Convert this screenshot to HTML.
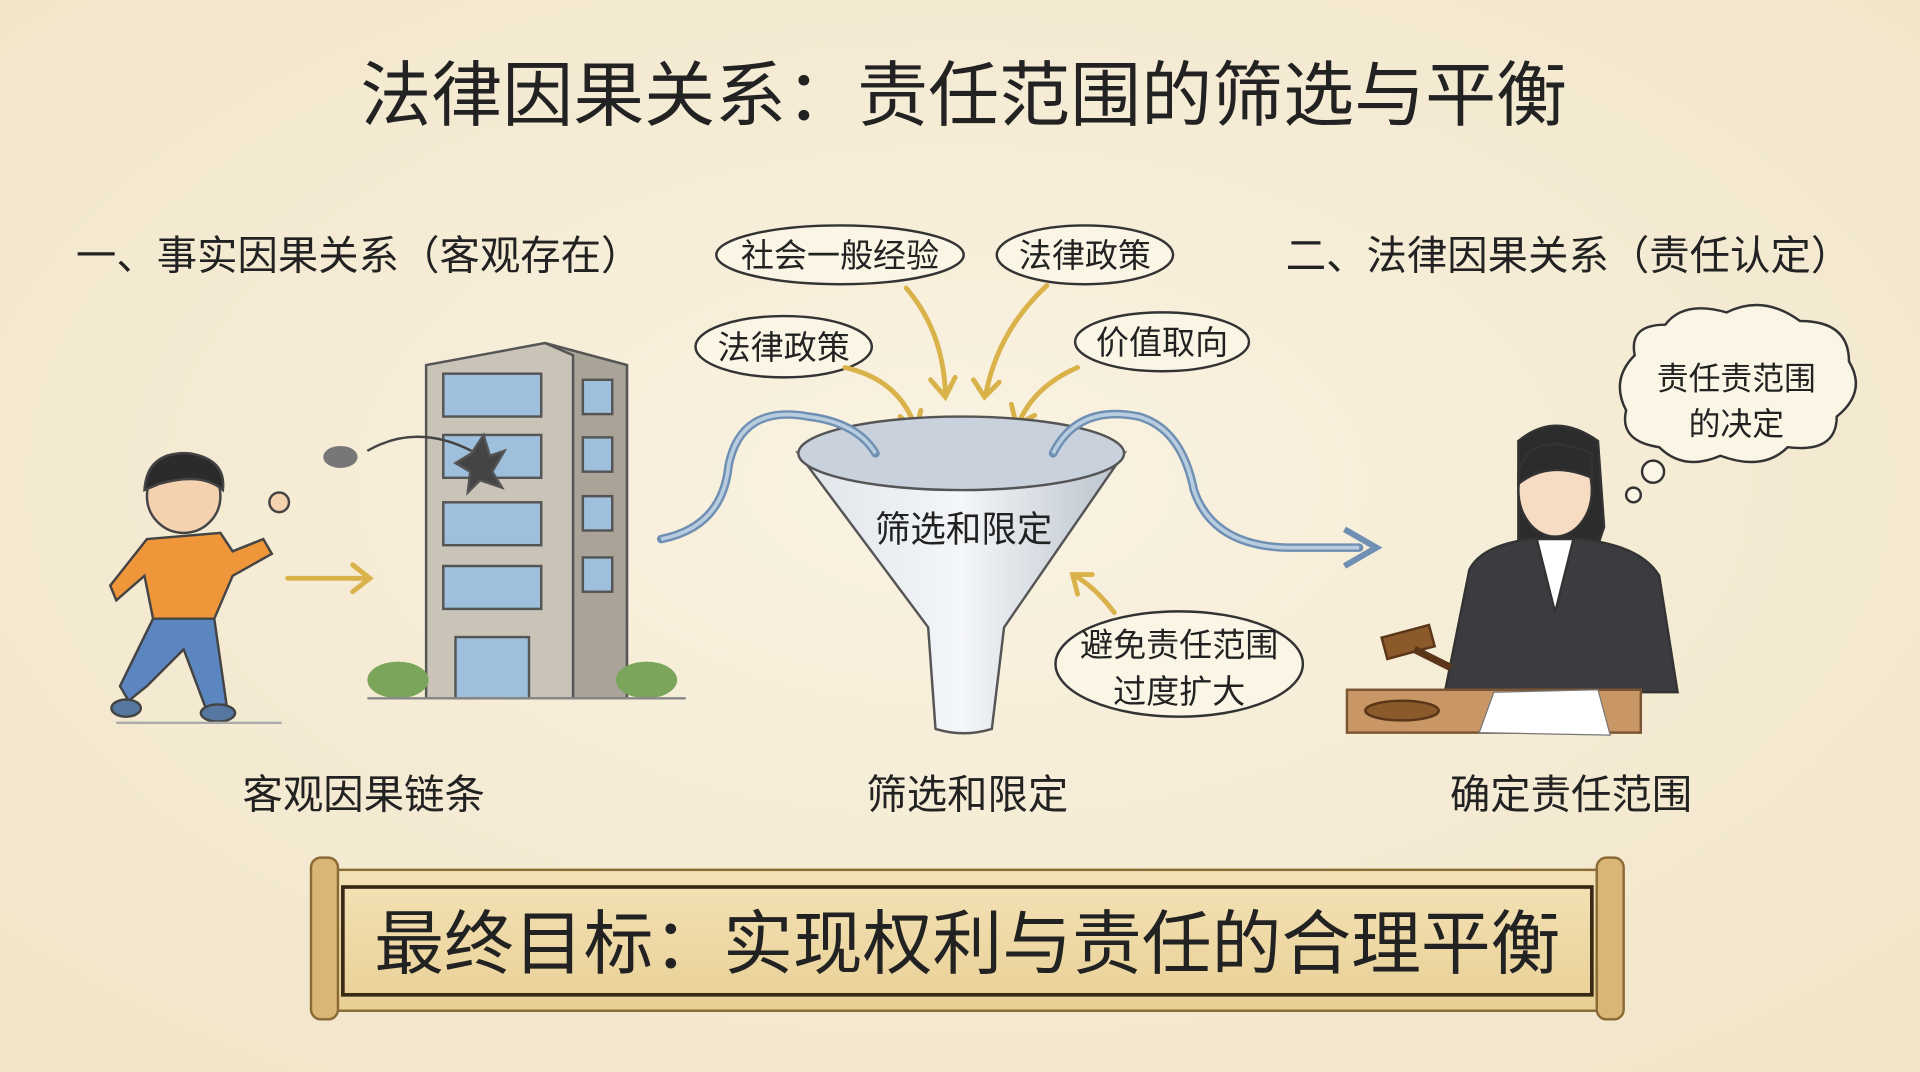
<!DOCTYPE html>
<html><head><meta charset="utf-8"><style>
html,body{margin:0;padding:0;background:#f7efdc;}
svg{display:block}
text{font-family:"Liberation Sans","Noto Sans CJK SC","WenQuanYi Zen Hei",sans-serif;fill:#222;}
</style></head><body>
<svg width="1920" height="1072" viewBox="0 0 1568 875" preserveAspectRatio="none" xmlns="http://www.w3.org/2000/svg">
<defs>
<radialGradient id="bg" cx="50%" cy="45%" r="70%"><stop offset="0" stop-color="#faf3e2"/><stop offset="1" stop-color="#f1e5c9"/></radialGradient>
<linearGradient id="fun" x1="0" x2="1"><stop offset="0" stop-color="#dfe4ea"/><stop offset="0.5" stop-color="#f4f6f8"/><stop offset="1" stop-color="#b9c2cc"/></linearGradient>
<linearGradient id="scr" x1="0" x2="0" y1="0" y2="1"><stop offset="0" stop-color="#f4e3b8"/><stop offset="1" stop-color="#e8cf94"/></linearGradient>
</defs>
<rect width="1568" height="875" fill="url(#bg)"/>
<text x="787" y="98" font-size="58" text-anchor="middle">法律因果关系：责任范围的筛选与平衡</text>
<text x="62" y="220" font-size="33">一、事实因果关系（客观存在）</text>
<text x="1050" y="220" font-size="33">二、法律因果关系（责任认定）</text>

<g fill="#fbf5e6" stroke="#333" stroke-width="2">
<ellipse cx="686" cy="208" rx="101" ry="24"/>
<ellipse cx="886" cy="208" rx="72" ry="24"/>
<ellipse cx="640" cy="283" rx="72" ry="25"/>
<ellipse cx="949" cy="279" rx="71" ry="24"/>
<ellipse cx="963" cy="542" rx="101" ry="43"/>
</g>
<g font-size="27" text-anchor="middle">
<text x="686" y="218">社会一般经验</text>
<text x="886" y="218">法律政策</text>
<text x="640" y="293">法律政策</text>
<text x="949" y="289">价值取向</text>
<text x="963" y="536">避免责任范围</text>
<text x="963" y="574">过度扩大</text>
</g>
<g stroke="#d9b24a" stroke-width="4" fill="none" stroke-linecap="round">
<path d="M740 235 Q770 270 772 320"/><path d="M760 310 l12 14 l8 -16"/>
<path d="M855 233 Q815 270 805 322"/><path d="M795 310 l9 14 l12 -12"/>
<path d="M690 300 Q735 310 748 350"/><path d="M735 340 l13 12 l4 -17"/>
<path d="M880 300 Q845 315 832 345"/><path d="M826 330 l4 17 l15 -8"/>
<path d="M910 500 Q895 480 878 470"/><path d="M880 485 l-4 -16 l16 0"/>
<path d="M235 472 L300 472"/><path d="M288 461 l14 11 l-14 11"/>
</g>
<path d="M652 370 Q785 420 918 370 L820 512 L810 595 Q787 602 764 595 L758 512 Z" fill="url(#fun)" stroke="#555" stroke-width="2"/>
<ellipse cx="785" cy="370" rx="133" ry="30" fill="#c9d2dc" stroke="#555" stroke-width="2"/>
<text x="787" y="442" font-size="29" text-anchor="middle">筛选和限定</text>
<g stroke="#6f8fb3" stroke-width="7" fill="none" stroke-linecap="round">
<path d="M540 440 Q590 430 595 380 Q605 330 660 340 Q700 345 715 370"/>
<path d="M860 370 Q880 330 930 340 Q965 350 975 400 Q990 445 1050 447 L1110 447"/>
</g>
<g stroke="#b9cde0" stroke-width="3" fill="none">
<path d="M540 440 Q590 430 595 380 Q605 330 660 340 Q700 345 715 370"/>
<path d="M860 370 Q880 330 930 340 Q965 350 975 400 Q990 445 1050 447 L1110 447"/>
</g>
<path d="M1098 432 L1124 447 L1098 462" stroke="#6f8fb3" stroke-width="5" fill="none"/>
<g stroke="#555" stroke-width="2">
<polygon points="348,298 445,280 512,298 512,570 348,570" fill="#c9c3b8"/>
<polygon points="445,280 512,298 512,570 468,570 468,290" fill="#a9a398"/>
<g fill="#9fc0dc">
<rect x="362" y="305" width="80" height="35"/><rect x="362" y="355" width="80" height="35"/>
<rect x="362" y="410" width="80" height="35"/><rect x="362" y="462" width="80" height="35"/>
<rect x="476" y="310" width="24" height="28"/><rect x="476" y="357" width="24" height="28"/>
<rect x="476" y="405" width="24" height="28"/><rect x="476" y="455" width="24" height="28"/>
<rect x="372" y="520" width="60" height="50"/>
</g>
<polygon points="385,370 395,355 400,372 412,368 402,385 410,398 392,392 382,402 384,385 372,378" fill="#444"/>
</g>
<ellipse cx="325" cy="555" rx="25" ry="15" fill="#7aa55a"/><ellipse cx="528" cy="555" rx="25" ry="15" fill="#7aa55a"/>
<line x1="300" y1="570" x2="560" y2="570" stroke="#888" stroke-width="2"/>
<ellipse cx="278" cy="373" rx="14" ry="9" fill="#777"/>
<path d="M300 368 Q340 345 385 368" stroke="#444" stroke-width="2" fill="none"/>
<g stroke="#444" stroke-width="2">
<circle cx="150" cy="405" r="30" fill="#f4d2b0"/>
<path d="M118 400 Q120 368 155 370 Q185 375 182 400 Q165 385 130 395 Z" fill="#2b2b2b"/>
<path d="M120 440 L180 435 L190 450 L215 440 L222 452 L190 470 L175 505 L125 505 L118 470 L95 490 L90 478 Z" fill="#f0963a"/>
<path d="M125 505 L175 505 L185 575 L168 578 L150 530 L120 560 L105 572 L98 560 Z" fill="#5b86c0"/>
<ellipse cx="103" cy="578" rx="12" ry="7" fill="#5577a0"/><ellipse cx="178" cy="582" rx="14" ry="7" fill="#5577a0"/>
<circle cx="228" cy="410" r="8" fill="#f4d2b0"/>
</g>
<line x1="95" y1="590" x2="230" y2="590" stroke="#aaa" stroke-width="2"/>
<path d="M1335 290 Q1330 265 1360 265 Q1375 245 1410 255 Q1440 240 1470 262 Q1510 262 1510 295 Q1525 320 1500 340 Q1500 370 1460 365 Q1440 385 1405 372 Q1375 385 1355 365 Q1322 360 1328 335 Q1315 310 1335 290 Z" fill="#fbf5e6" stroke="#333" stroke-width="2"/>
<circle cx="1350" cy="385" r="9" fill="#fbf5e6" stroke="#333" stroke-width="2"/>
<circle cx="1334" cy="404" r="6" fill="#fbf5e6" stroke="#333" stroke-width="2"/>
<text x="1418" y="318" font-size="26" text-anchor="middle">责任责范围</text>
<text x="1418" y="355" font-size="26" text-anchor="middle">的决定</text>
<g stroke="#333" stroke-width="2">
<path d="M1240 360 Q1270 335 1305 360 L1310 430 L1300 460 L1240 440 Z" fill="#2c2c2c"/>
<ellipse cx="1270" cy="400" rx="30" ry="38" fill="#f6dcc2"/>
<path d="M1240 385 Q1250 350 1300 370 L1300 390 Q1265 375 1240 395 Z" fill="#2c2c2c"/>
<path d="M1200 465 Q1210 445 1250 440 L1290 440 Q1340 445 1355 470 L1370 565 L1180 565 Z" fill="#3c3c40"/>
<path d="M1255 440 L1270 500 L1285 440 Z" fill="#fff"/>
</g>
<rect x="1100" y="563" width="240" height="35" fill="#c99766" stroke="#7a5533" stroke-width="2"/>
<polygon points="1220,565 1305,563 1315,600 1208,598" fill="#fff" stroke="#777"/>
<g stroke="#5a3518" stroke-width="2" fill="#8b5a2b">
<rect x="1130" y="515" width="40" height="18" transform="rotate(-15 1150 524)"/>
<line x1="1155" y1="530" x2="1185" y2="545" stroke-width="6"/>
<ellipse cx="1145" cy="580" rx="30" ry="8"/>
</g>
<g font-size="33" text-anchor="middle">
<text x="297" y="660">客观因果链条</text>
<text x="790" y="660">筛选和限定</text>
<text x="1283" y="660">确定责任范围</text>
</g>
<rect x="262" y="710" width="1056" height="115" fill="url(#scr)" stroke="#8a6a35" stroke-width="2"/>
<rect x="280" y="724" width="1020" height="88" fill="none" stroke="#3a2a15" stroke-width="3"/>
<rect x="254" y="700" width="22" height="132" rx="8" fill="#d9b576" stroke="#8a6a35" stroke-width="2"/>
<rect x="1304" y="700" width="22" height="132" rx="8" fill="#d9b576" stroke="#8a6a35" stroke-width="2"/>
<text x="790" y="790" font-size="57" text-anchor="middle">最终目标：实现权利与责任的合理平衡</text>
</svg>
</body></html>
